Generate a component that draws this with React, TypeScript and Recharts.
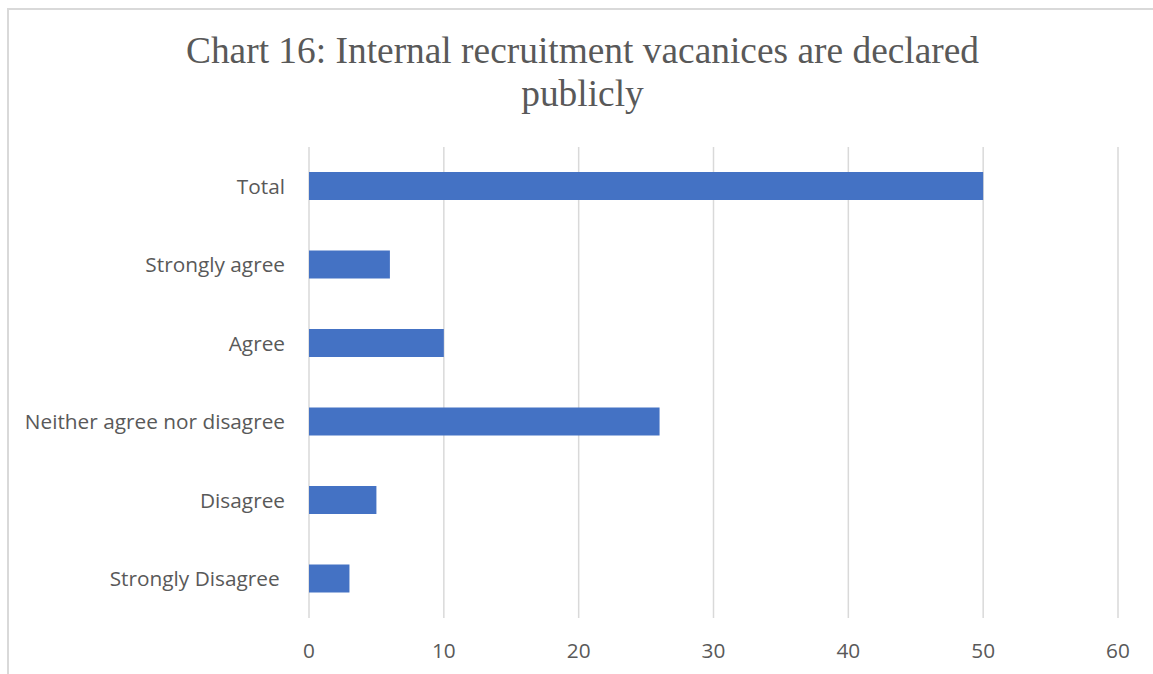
import React from "react";
import { BarChart, Bar, XAxis, YAxis, CartesianGrid } from "recharts";

const categories = [
  "Total",
  "Strongly agree",
  "Agree",
  "Neither agree nor disagree",
  "Disagree",
  "Strongly Disagree\u00A0",
];
const values = [50, 6, 10, 26, 5, 3];
const xTicks = [0, 10, 20, 30, 40, 50, 60];

const data = categories.map((name, i) => ({ name, value: values[i] }));

const tickStyle = {
  fill: "#595959",
  fontSize: 20.8,
  fontFamily: "'Open Sans', 'Noto Sans', sans-serif",
};

export default function App() {
  return (
    <div
      style={{
        position: "absolute",
        left: 7,
        top: 8,
        width: 1146,
        height: 666,
        overflow: "hidden",
        background: "#fff",
        borderLeft: "2px solid #d9d9d9",
        borderTop: "2px solid #d9d9d9",
        boxSizing: "border-box",
      }}
    >
      <div
        style={{
          position: "absolute",
          left: -1,
          top: 19,
          width: 1149,
          textAlign: "center",
          fontFamily: "'Liberation Serif', 'Times New Roman', serif",
          fontSize: 37.4,
          lineHeight: "43px",
          color: "#595959",
        }}
      >
        Chart 16: Internal recruitment vacanices are declared
        <br />
        publicly
      </div>
      <div style={{ position: "absolute", left: -1, top: -2 }}>
        <BarChart
          width={1145}
          height={666}
          data={data}
          layout="vertical"
          margin={{ top: 139, right: 35, bottom: 16, left: 0 }}
        >
          <CartesianGrid horizontal={false} stroke="#d9d9d9" strokeWidth={1.5} />
          <XAxis
            type="number"
            domain={[0, 60]}
            ticks={xTicks}
            interval={0}
            axisLine={false}
            tickLine={false}
            tickMargin={19}
            height={40}
            tick={tickStyle}
          />
          <YAxis
            type="category"
            dataKey="name"
            width={301}
            axisLine={false}
            tickLine={false}
            tickMargin={18}
            interval={0}
            tick={tickStyle}
          />
          <Bar dataKey="value" fill="#4472c4" barSize={28} isAnimationActive={false} />
        </BarChart>
      </div>
    </div>
  );
}
